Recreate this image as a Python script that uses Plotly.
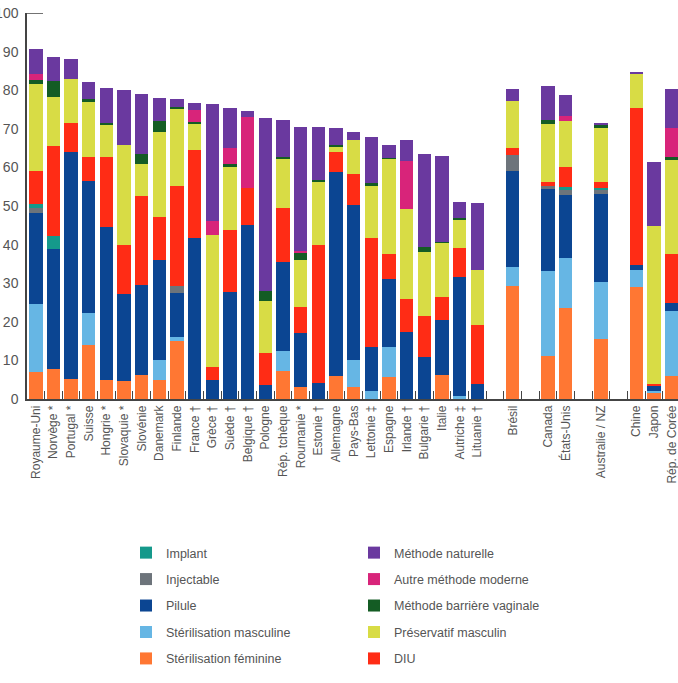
import plotly.graph_objects as go

countries = ["Royaume-Uni", "Norvège *", "Portugal *", "Suisse", "Hongrie *", "Slovaquie *",
             "Slovénie", "Danemark", "Finlande", "France †", "Grèce †", "Suède †", "Belgique †",
             "Pologne", "Rép. tchèque", "Roumanie *", "Estonie †", "Allemagne", "Pays-Bas",
             "Lettonie ‡", "Espagne", "Irlande †", "Bulgarie †", "Italie", "Autriche ‡",
             "Lituanie †", " ", "Brésil", "  ", "Canada", "États-Unis", "   ", "Australie / NZ",
             "    ", "Chine", "Japon", "Rép. de Corée"]

N = None
ster_fem = [6.9, 7.8, 5.3, 13.9, 5.0, 4.7, 6.1, 5.0, 14.9, 0, 0, 0, 0, 0, 7.3, 3.0, 0, 5.9, 3.1,
            0, 5.7, 0, 0, 6.1, 0, 0, N, 29.3, N, 11.2, 23.7, N, 15.5, N, 28.9, 1.6, 6.0]
ster_masc = [17.7, 0, 0, 8.3, 0, 0, 0, 5.2, 1.1, 0, 0, 0, 0, 0, 5.2, 0, 0, 0, 7.1,
             2.2, 7.9, 0, 0, 0, 0.7, 0, N, 5.0, N, 22.0, 12.8, N, 14.7, N, 4.5, 0.6, 16.8]
pilule = [23.5, 31.1, 58.8, 34.3, 39.5, 22.5, 23.5, 25.9, 11.4, 41.7, 5.0, 27.6, 45.0, 3.5, 23.1,
          14.1, 4.1, 52.9, 40.1, 11.4, 17.4, 17.4, 10.9, 14.4, 30.8, 3.9, N, 24.8, N, 21.1, 16.3,
          N, 22.8, N, 1.3, 1.1, 2.0]
injectable = [1.3, 0, 0, 0, 0, 0, 0, 0, 1.9, 0, 0, 0, 0, 0, 0, 0, 0, 0, 0,
              0, 0, 0, 0, 0, 0, 0, N, 4.2, N, 1.0, 1.3, N, 1.1, N, 0, 0, 0]
implant = [1.1, 3.2, 0, 0, 0, 0, 0, 0, 0, 0, 0, 0, 0, 0, 0, 0, 0, 0, 0,
           0, 0, 0, 0, 0, 0, 0, N, 0, N, 0, 0.8, N, 0.6, N, 0, 0, 0]
diu = [8.5, 23.4, 7.4, 6.2, 18.3, 12.7, 23.1, 11.0, 25.9, 22.7, 3.4, 16.2, 9.7, 8.4, 13.9, 6.7,
       35.8, 5.3, 7.9, 28.0, 6.5, 8.5, 10.7, 5.9, 7.6, 15.2, N, 1.8, N, 1.0, 5.3, N, 1.4, N,
       40.8, 0.7, 12.8]
preservatif = [22.7, 12.8, 11.3, 14.3, 8.2, 25.9, 8.2, 22.1, 20.1, 6.8, 34.1, 16.4, 0, 13.4, 12.7,
               12.1, 16.2, 1.2, 9.0, 13.8, 24.7, 23.2, 16.6, 14.2, 7.3, 14.3, N, 12.2, N, 14.9,
               11.8, N, 14.2, N, 8.6, 40.7, 24.3]
barriere = [0.9, 4.0, 0, 0.8, 0.6, 0, 2.5, 2.9, 0.3, 0.6, 0, 0.7, 0, 2.8, 0.6, 1.8, 0.6, 0.4, 0,
            0.5, 0.3, 0, 1.3, 0.2, 0.6, 0, N, 0, N, 1.0, 0, N, 0.8, N, 0, 0, 0.9]
autre = [1.5, 0, 0, 0, 0, 0, 0, 0, 0, 3.2, 3.5, 4.0, 18.4, 0, 0, 0.7, 0, 0, 0,
         0, 0, 12.5, 0, 0, 0, 0, N, 0, N, 0, 1.3, N, 0, N, 0, 0, 7.5]
naturelle = [6.7, 6.3, 5.4, 4.4, 9.1, 14.2, 15.6, 6.0, 2.1, 1.7, 30.3, 10.4, 1.5, 44.7, 9.6, 32.0,
             13.7, 4.6, 2.0, 12.0, 3.4, 5.4, 24.0, 22.1, 4.0, 17.5, N, 3.1, N, 9.0, 5.5, N, 0.5,
             N, 0.6, 16.7, 9.9]

# (name, values, colour, legend, rank within legend: top = 1)
series = [
    ("Stérilisation féminine", ster_fem, "#ff7733", "legend", 5),
    ("Stérilisation masculine", ster_masc, "#66b6e4", "legend", 4),
    ("Pilule", pilule, "#0b4592", "legend", 3),
    ("Injectable", injectable, "#6d747b", "legend", 2),
    ("Implant", implant, "#15998b", "legend", 1),
    ("DIU", diu, "#ff2c15", "legend2", 5),
    ("Préservatif masculin", preservatif, "#d8dc45", "legend2", 4),
    ("Méthode barrière vaginale", barriere, "#145c24", "legend2", 3),
    ("Autre méthode moderne", autre, "#d8247a", "legend2", 2),
    ("Méthode naturelle", naturelle, "#6a399f", "legend2", 1),
]

fig = go.Figure()
for name, vals, color, leg, rank in series:
    fig.add_trace(go.Bar(
        x=countries, y=vals, name=name, marker=dict(color=color, line=dict(width=0)),
        legend=leg, legendgroup=name, legendrank=rank, hoverinfo="x+y+name",
    ))

font_family = "Liberation Sans, Arial, sans-serif"
leg_common = dict(
    xref="container", yref="container", yanchor="top", xanchor="left",
    traceorder="grouped", tracegroupgap=7.2, bgcolor="rgba(0,0,0,0)",
    font=dict(family=font_family, size=12.5, color="#555555"),
    itemclick=False, itemdoubleclick=False,
)

fig.update_layout(
    width=678, height=683,
    margin=dict(l=27, r=0, t=13, b=284, autoexpand=False),
    barmode="stack", bargap=0.245,
    plot_bgcolor="white", paper_bgcolor="white",
    font=dict(family=font_family, color="#555555"),
    showlegend=True,
    legend=dict(x=126 / 678, y=1 - 538 / 683, **leg_common),
    legend2=dict(x=354 / 678, y=1 - 538 / 683, **leg_common),
    xaxis=dict(
        type="category", categoryorder="array", categoryarray=countries,
        range=[-0.5, 36.36], tickangle=-90, tickson="boundaries",
        ticks="inside", ticklen=8, tickwidth=1.2, tickcolor="#444444",
        showline=True, linecolor="#444444", linewidth=1.5,
        showgrid=False, zeroline=False,
        tickfont=dict(family=font_family, size=12, color="#555555"),
        automargin=False,
    ),
    yaxis=dict(
        range=[0, 100], tick0=0, dtick=10, ticks="", showgrid=False, zeroline=False,
        showline=True, linecolor="#444444", linewidth=1.5,
        tickfont=dict(family=font_family, size=14, color="#555555"),
        ticklabelstandoff=4, automargin=False,
    ),
    shapes=[dict(type="line", xref="paper", yref="y", x0=0, x1=16 / 651, y0=100, y1=100,
                 line=dict(color="#444444", width=1.5))],
)

fig.write_html("out.html")
